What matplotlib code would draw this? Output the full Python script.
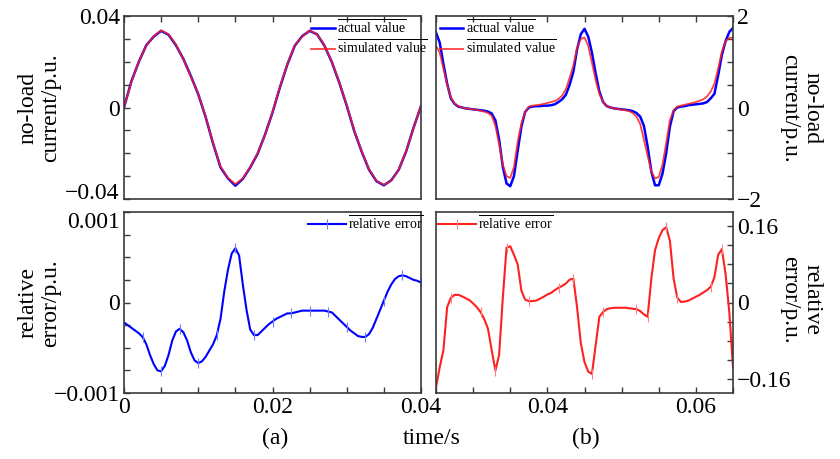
import numpy as np
import matplotlib
matplotlib.use('Agg')
import matplotlib.pyplot as plt
from matplotlib.ticker import MultipleLocator

plt.rcParams['font.family'] = ['Liberation Serif', 'DejaVu Serif']
plt.rcParams['mathtext.fontset'] = 'custom'
plt.rcParams['mathtext.rm'] = 'Liberation Serif'

# (a) no-load current, 0 .. 0.04 s, step 1 ms
t_a_top = np.arange(41) * 0.001
actual_a = [0.000, 0.0115, 0.020, 0.0272, 0.031, 0.0335, 0.0318, 0.0272, 0.0212, 0.0138,
            0.0058, -0.0042, -0.0158, -0.0262, -0.0310, -0.0342, -0.0312, -0.0262, -0.0202, -0.0118,
            -0.0022, 0.0088, 0.0188, 0.0270, 0.0312, 0.0335, 0.0320, 0.0270, 0.0198, 0.0108,
            0.0008, -0.0102, -0.0192, -0.0272, -0.0322, -0.0340, -0.0318, -0.0272, -0.0192, -0.0088,
            0.0006]
simulated_a = [0.000, 0.0112, 0.0202, 0.0270, 0.0312, 0.0337, 0.0320, 0.0275, 0.0210, 0.0135,
               0.0060, -0.0040, -0.0155, -0.0258, -0.0308, -0.0335, -0.0310, -0.0260, -0.0200, -0.0120,
               -0.0020, 0.0090, 0.0190, 0.0272, 0.0310, 0.0337, 0.0320, 0.0272, 0.0200, 0.0110,
               0.0010, -0.0100, -0.0190, -0.0270, -0.0320, -0.0338, -0.0320, -0.0270, -0.0190, -0.0090,
               0.0010]

# (a) relative error, 0 .. 0.04 s, step 0.5 ms (values in 1e-3 p.u.)
t_a_err = np.arange(81) * 0.0005
error_a = [-0.22, -0.25, -0.28, -0.31, -0.34, -0.38, -0.46, -0.58, -0.68, -0.75,
           -0.76, -0.70, -0.58, -0.42, -0.32, -0.29, -0.33, -0.42, -0.55, -0.64,
           -0.67, -0.65, -0.60, -0.53, -0.46, -0.36, -0.18, 0.12, 0.36, 0.54,
           0.60, 0.52, 0.20, -0.08, -0.30, -0.36, -0.36, -0.32, -0.28, -0.24,
           -0.21, -0.18, -0.16, -0.14, -0.12, -0.12, -0.11, -0.10, -0.09, -0.09,
           -0.09, -0.09, -0.09, -0.09, -0.09, -0.10, -0.11, -0.15, -0.19, -0.23,
           -0.27, -0.31, -0.34, -0.37, -0.38, -0.38, -0.35, -0.28, -0.18, -0.08,
           0.02, 0.12, 0.20, 0.26, 0.29, 0.30, 0.29, 0.27, 0.25, 0.24,
           0.22]

# (b) no-load current, 0.025 .. 0.065 s, step 0.5 ms
t_b = 0.025 + np.arange(81) * 0.0005
actual_b = [1.64, 1.42, 0.95, 0.52, 0.20, 0.08, 0.02, 0.00, -0.02, -0.03,
            -0.04, -0.05, -0.06, -0.07, -0.09, -0.13, -0.28, -0.70, -1.30, -1.66,
            -1.72, -1.50, -0.95, -0.42, -0.10, 0.00, 0.02, 0.03, 0.03, 0.04,
            0.04, 0.05, 0.07, 0.12, 0.18, 0.28, 0.50, 0.78, 1.27, 1.60,
            1.72, 1.55, 1.20, 0.75, 0.35, 0.12, 0.03, 0.00, -0.02, -0.03,
            -0.04, -0.05, -0.06, -0.08, -0.12, -0.20, -0.40, -0.85, -1.40, -1.70,
            -1.70, -1.45, -1.00, -0.42, -0.08, 0.00, 0.02, 0.03, 0.05, 0.06,
            0.07, 0.08, 0.09, 0.12, 0.20, 0.30, 0.70, 1.15, 1.45, 1.65,
            1.74]
simulated_b = [1.35, 1.20, 0.85, 0.50, 0.22, 0.09, 0.03, 0.00, -0.02, -0.03,
               -0.04, -0.05, -0.07, -0.09, -0.12, -0.18, -0.40, -0.80, -1.25, -1.50,
               -1.54, -1.30, -0.75, -0.35, -0.10, 0.02, 0.04, 0.05, 0.06, 0.08,
               0.10, 0.12, 0.14, 0.19, 0.26, 0.40, 0.65, 0.92, 1.30, 1.50,
               1.53, 1.35, 0.98, 0.60, 0.30, 0.12, 0.03, 0.00, -0.02, -0.03,
               -0.05, -0.06, -0.08, -0.12, -0.20, -0.36, -0.70, -1.05, -1.40, -1.55,
               -1.52, -1.25, -0.78, -0.28, -0.06, 0.02, 0.04, 0.06, 0.08, 0.10,
               0.12, 0.15, 0.18, 0.24, 0.35, 0.52, 0.85, 1.22, 1.45, 1.52,
               1.53]

# (b) relative error, same time base
error_b = [-0.178, -0.136, -0.100, -0.010, 0.010, 0.016, 0.016, 0.013, 0.009, 0.005,
           -0.002, -0.010, -0.020, -0.035, -0.055, -0.100, -0.143, -0.110, 0.010, 0.115,
           0.118, 0.100, 0.080, 0.025, 0.006, 0.003, 0.003, 0.004, 0.008, 0.012,
           0.017, 0.020, 0.026, 0.031, 0.035, 0.040, 0.048, 0.050, -0.010, -0.085,
           -0.125, -0.145, -0.150, -0.090, -0.030, -0.020, -0.014, -0.012, -0.011, -0.011,
           -0.011, -0.011, -0.012, -0.013, -0.014, -0.018, -0.025, -0.030, 0.050, 0.110,
           0.135, 0.152, 0.158, 0.130, 0.050, 0.010, 0.001, 0.002, 0.004, 0.008,
           0.012, 0.016, 0.021, 0.026, 0.033, 0.053, 0.100, 0.112, 0.060, -0.020,
           -0.136]
marks_b = [4, 12, 16, 19, 25, 33, 37, 42, 45, 54, 57, 62, 65, 74, 77]

W, H = 840, 459
FS = 17
spine_c = '#3a3a3a'
blue = '#0000ff'
red = '#ff2020'


def box(x0, y0, x1, y1):
    return [x0 / W, 1 - y1 / H, (x1 - x0) / W, (y1 - y0) / H]


def style(ax, right=False, top=False, bottom=False):
    for s in ax.spines.values():
        s.set_color(spine_c)
        s.set_linewidth(1.2)
    ax.tick_params(which='both', direction='in', length=4, width=1, color=spine_c,
                   labelsize=FS, left=not right, right=right, labelleft=not right,
                   labelright=right, top=top, bottom=bottom, labelbottom=bottom, pad=3)


def over(s):
    return r'$\overline{\mathrm{' + s.replace(' ', r'\ ') + '}}$'


fig = plt.figure(figsize=(W / 100, H / 100), dpi=100)
ax1 = fig.add_axes(box(124, 16, 421, 199))
ax2 = fig.add_axes(box(436, 16, 733, 199))
ax3 = fig.add_axes(box(124, 212, 421, 393))
ax4 = fig.add_axes(box(436, 212, 733, 393))

# top left
ax1.plot(t_a_top, actual_a, color=blue, lw=1.8, label=over('actual value'))
ax1.plot(t_a_top, simulated_a, color=red, lw=1.3, alpha=0.85, label=over('simulated value'))
ax1.set_xlim(0, 0.04)
ax1.set_ylim(-0.04, 0.04)
ax1.set_yticks([-0.04, 0, 0.04], ['\u22120.04', '0', '0.04'])
ax1.get_yticklabels()[0].set_va('baseline')
ax1.yaxis.set_minor_locator(MultipleLocator(0.01))
ax1.xaxis.set_major_locator(MultipleLocator(0.005))
style(ax1, top=True)
ax1.legend(loc='upper left', bbox_to_anchor=(0.63, 0.99), frameon=False, fontsize=10,
           handlelength=1.7, handletextpad=0.2, labelspacing=0.15, borderpad=0, borderaxespad=0)

# top right
ax2.plot(t_b, actual_b, color=blue, lw=1.8, label=over('actual value'))
ax2.plot(t_b, simulated_b, color=red, lw=1.3, alpha=0.85, label=over('simulated value'))
ax2.set_xlim(0.025, 0.065)
ax2.set_ylim(-2, 2)
ax2.set_yticks([-2, 0, 2], ['\u22122', '0', '2'])
ax2.yaxis.set_minor_locator(MultipleLocator(0.5))
ax2.xaxis.set_major_locator(MultipleLocator(0.005))
style(ax2, right=True, top=True)
ax2.legend(loc='upper left', bbox_to_anchor=(0.012, 0.99), frameon=False, fontsize=10,
           handlelength=1.7, handletextpad=0.2, labelspacing=0.15, borderpad=0, borderaxespad=0)

# bottom left
ax3.plot(t_a_err, np.array(error_a) * 1e-3, color=blue, lw=1.5, marker='|', ms=7,
         mew=0.8, mec=(0.4, 0.5, 1.0), markevery=(5, 5), label=over('relative error'))
ax3.set_xlim(0, 0.04)
ax3.set_ylim(-0.001, 0.001)
ax3.set_yticks([-0.001, 0, 0.001], ['\u22120.001', '0', '0.001'])
ax3.get_yticklabels()[2].set_va('top')
ax3.yaxis.set_minor_locator(MultipleLocator(0.00025))
ax3.set_xticks([0, 0.02, 0.04], ['0', '0.02', '0.04'])
ax3.xaxis.set_minor_locator(MultipleLocator(0.005))
style(ax3, bottom=True)
ax3.legend(loc='upper left', bbox_to_anchor=(0.62, 0.99), frameon=False, fontsize=10,
           handlelength=2.7, handletextpad=0.2, borderpad=0, borderaxespad=0)

# bottom right
ax4.plot(t_b, error_b, color=red, lw=1.5, marker='|', ms=7, mew=0.8,
         mec=(1.0, 0.5, 0.5), markevery=marks_b, label=over('relative error'))
ax4.set_xlim(0.025, 0.065)
ax4.set_ylim(-0.19, 0.19)
ax4.set_yticks([-0.16, 0, 0.16], ['\u22120.16', '0', '0.16'])
ax4.yaxis.set_minor_locator(MultipleLocator(0.04))
ax4.set_xticks([0.04, 0.06], ['0.04', '0.06'])
ax4.xaxis.set_minor_locator(MultipleLocator(0.005))
style(ax4, right=True, bottom=True)
ax4.legend(loc='upper left', bbox_to_anchor=(0.007, 0.99), frameon=False, fontsize=10,
           handlelength=2.7, handletextpad=0.2, borderpad=0, borderaxespad=0)

# axis titles
fig.text(39 / W, 1 - 108 / H, 'no-load\ncurrent/p.u.', rotation=90, ha='center', va='center',
         fontsize=FS, multialignment='center', linespacing=1.1)
fig.text(39 / W, 1 - 303 / H, 'relative\nerror/p.u.', rotation=90, ha='center', va='center',
         fontsize=FS, multialignment='center', linespacing=1.1)
fig.text(801 / W, 1 - 108 / H, 'no-load\ncurrent/p.u.', rotation=-90, ha='center', va='center',
         fontsize=FS, multialignment='center', linespacing=1.1)
fig.text(801 / W, 1 - 300 / H, 'relative\nerror/p.u.', rotation=-90, ha='center', va='center',
         fontsize=FS, multialignment='center', linespacing=1.1)
fig.text(275 / W, 1 - 438 / H, '(a)', ha='center', va='center', fontsize=FS)
fig.text(432 / W, 1 - 438 / H, 'time/s', ha='center', va='center', fontsize=FS)
fig.text(586 / W, 1 - 438 / H, '(b)', ha='center', va='center', fontsize=FS)

fig.savefig('out.png', dpi=100)
